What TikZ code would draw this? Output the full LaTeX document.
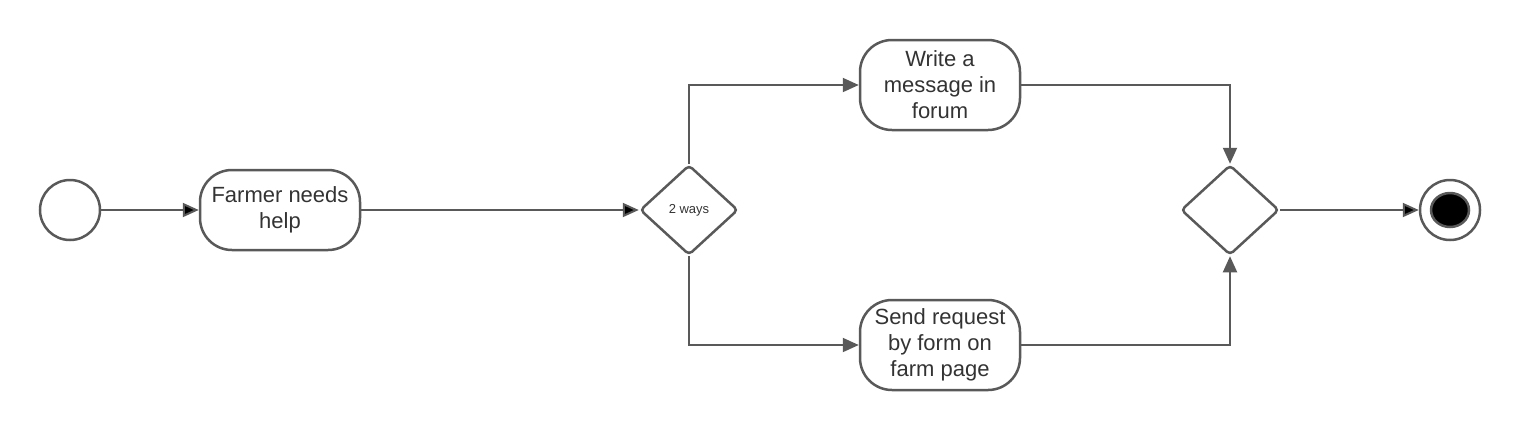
\documentclass[tikz,border=0pt]{standalone}
\usepackage{fontspec}
\setmainfont{Liberation Sans}
\usetikzlibrary{shapes.geometric,arrows.meta}
\definecolor{linegray}{HTML}{595959}
\definecolor{textgray}{HTML}{333333}
\tikzset{
    activity/.style={shape=rectangle,draw=linegray,line width=1.25pt,rounded corners=16pt,
        minimum width=80pt,align=center,font=\fontsize{11}{13}\selectfont,text=textgray,inner sep=0pt},
    decision/.style={shape=diamond,draw=linegray,line width=1.25pt,rounded corners=2pt,
        minimum width=49pt,minimum height=45pt,text=textgray,inner sep=0pt},
    flow/.style={draw=linegray,line width=1pt,-{Triangle[length=8pt,width=7pt]}}
}
\begin{document}
\begin{tikzpicture}[x=0.5pt,y=-0.5pt]
    \useasboundingbox (0,0) rectangle (1520,430);
    \node[shape=circle,draw=linegray,line width=1.25pt,minimum size=30pt,inner sep=0pt] (Start) at (70,210) {};
    \node[activity,minimum height=40pt] (Farmer needs help) at (280,210) {Farmer needs\\help};
    \node[decision,font=\fontsize{6.5}{8}\selectfont] (2 ways) at (689,210) {2 ways};
    \node[activity,minimum height=45pt] (Write a message) at (940,85) {Write a\\message in\\forum};
    \node[activity,minimum height=45pt] (Send request) at (940,345) {Send request\\by form on\\farm page};
    \node[decision] (Merge) at (1230,210) {};
    \node[shape=circle,draw=linegray,line width=1.25pt,minimum size=30pt,inner sep=0pt] (End) at (1450,210) {};
    \node[shape=ellipse,draw=linegray,line width=1.25pt,fill=black,minimum width=19pt,minimum height=17pt,inner sep=0pt] (End dot) at (End) {};

    \path [flow] (Start) edge node {} (Farmer needs help);
    \path [flow] (Farmer needs help) edge node {} (2 ways);
    \draw [flow] (2 ways.north) |- (Write a message);
    \draw [flow] (2 ways.south) |- (Send request);
    \draw [flow] (Write a message) -| (Merge.north);
    \draw [flow] (Send request) -| (Merge.south);
    \path [flow] (Merge) edge node {} (End);
\end{tikzpicture}
\end{document}
